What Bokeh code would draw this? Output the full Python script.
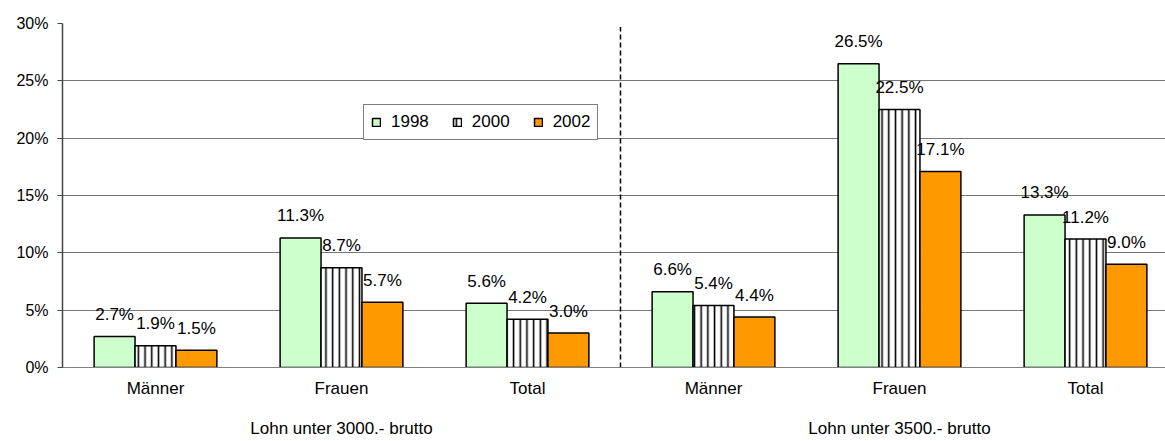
from bokeh.plotting import figure
from bokeh.models import (ColumnDataSource, Range1d, FixedTicker, LinearAxis,
                          PrintfTickFormatter, Legend, LegendItem)
from bokeh.core.properties import value
from bokeh.embed import file_html
from bokeh.resources import INLINE

categories = ["Männer", "Frauen", "Total", "Männer", "Frauen", "Total"]
groups = ["Lohn unter 3000.- brutto", "Lohn unter 3500.- brutto"]
group_of = [None, 0, None, None, 1, None]   # group label shown under this category
years = ["1998", "2000", "2002"]
v1998 = [2.7, 11.3, 5.6, 6.6, 26.5, 13.3]
v2000 = [1.9, 8.7, 4.2, 5.4, 22.5, 11.2]
v2002 = [1.5, 5.7, 3.0, 4.4, 17.1, 9.0]
y_ticks = [0, 5, 10, 15, 20, 25, 30]

FONT = "Liberation Sans"
BAR_W = 0.22
centers = [i + 0.5 for i in range(len(categories))]

p = figure(width=1165, height=441, output_backend="svg", toolbar_location=None,
           x_range=Range1d(0, 1103 / 186.0), y_range=Range1d(0, 30),
           min_border_left=62, min_border_right=0, min_border_top=23,
           min_border_bottom=74, x_axis_type=None)
p.outline_line_color = None
p.background_fill_color = "white"

# grid
p.ygrid.ticker = FixedTicker(ticks=y_ticks)
p.ygrid.grid_line_color = "#777777"
p.ygrid.grid_line_width = 1
p.xgrid.grid_line_color = None

# y axis
p.yaxis.ticker = FixedTicker(ticks=y_ticks)
p.yaxis.formatter = PrintfTickFormatter(format="%d%%")
p.yaxis.major_label_text_font = FONT
p.yaxis.major_label_text_font_size = "16px"
p.yaxis.major_label_text_color = "black"
p.yaxis.axis_line_color = "#444444"
p.yaxis.axis_line_width = 1.5
p.yaxis.major_tick_line_color = "#444444"
p.yaxis.major_tick_in = 0
p.yaxis.major_tick_out = 5
p.yaxis.minor_tick_line_color = None
p.yaxis.major_label_standoff = 9

# x axis (categories + group labels as a second text line)
labels = {}
for c, lab, g in zip(centers, categories, group_of):
    labels[c] = lab if g is None else lab + "\n\n" + groups[g]
xa = LinearAxis(ticker=FixedTicker(ticks=centers), major_label_overrides=labels)
xa.axis_line_color = "#808080"
xa.major_tick_line_color = None
xa.minor_tick_line_color = None
xa.major_label_standoff = 5
xa.major_label_text_font = FONT
xa.major_label_text_font_size = "17px"
xa.major_label_text_color = "black"
xa.major_label_text_line_height = 1.07
p.add_layout(xa, "below")

# bars
series = [v1998, v2000, v2002]
offsets = [-BAR_W, 0.0, BAR_W]
renderers = []
for k, (vals, off) in enumerate(zip(series, offsets)):
    src = ColumnDataSource(dict(x=[c + off for c in centers], top=vals,
                                lab=["%.1f%%" % v for v in vals]))
    if k == 0:
        r = p.vbar(x="x", top="top", bottom=0, width=BAR_W, source=src,
                   fill_color="#CCFFCC", line_color="black", line_width=1.5)
    elif k == 1:
        r = p.vbar(x="x", top="top", bottom=0, width=BAR_W, source=src,
                   fill_color="white", line_color="black", line_width=1.5,
                   hatch_pattern="vertical_line", hatch_color="black",
                   hatch_scale=6.7, hatch_weight=1.6)
    else:
        r = p.vbar(x="x", top="top", bottom=0, width=BAR_W, source=src,
                   fill_color="#FF9900", line_color="black", line_width=1.5)
    renderers.append(r)
    p.text(x="x", y="top", text="lab", source=src, text_align="center",
           text_baseline="middle", y_offset=-22, text_font=value(FONT),
           text_font_size="17px", text_color="black")

# separator
p.segment(x0=[3.0], y0=[0], x1=[3.0], y1=[29.7], line_color="black",
          line_width=1.5, line_dash="5 3")

legend = Legend(items=[LegendItem(label=y, renderers=[r]) for y, r in zip(years, renderers)],
                orientation="horizontal", location=(301, 227))
legend.glyph_width = 10
legend.glyph_height = 10
legend.label_standoff = 10
legend.spacing = 23
legend.padding = 7
legend.margin = 0
legend.label_text_font = FONT
legend.label_text_font_size = "17px"
legend.label_text_color = "black"
legend.border_line_color = "black"
legend.border_line_width = 1
legend.background_fill_alpha = 1
p.add_layout(legend, "center")

open("out.html", "w").write(file_html(p, INLINE))
